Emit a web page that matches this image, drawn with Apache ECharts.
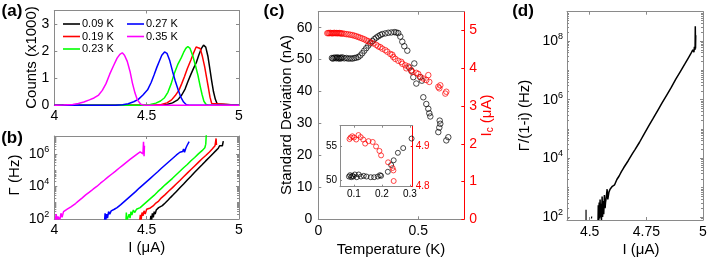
<!DOCTYPE html>
<html><head><meta charset="utf-8">
<script src="https://cdn.jsdelivr.net/npm/echarts@6/dist/echarts.min.js"></script>
<style>html,body{margin:0;padding:0;background:#fff}#c{width:714px;height:260px}</style>
</head><body><div id="c"></div>
<script>
// ---------------- DATA ----------------
const tempNames = ['0.09 K','0.19 K','0.23 K','0.27 K','0.35 K'];
const tempColors = ['#000000','#ff0000','#00ff00','#0000ff','#ff00ff'];

// (a) switching histograms: [I (uA), counts x1000]
const histK009 = [[4.0,0],[4.57,0],[4.61,0.03],[4.64,0.09],[4.668,0.2],[4.69,0.38],[4.708,0.6],[4.723,0.87],[4.74,1.15],[4.755,1.38],[4.769,1.58],[4.782,1.85],[4.795,2.08],[4.808,2.22],[4.82,2.15],[4.832,1.8],[4.842,1.35],[4.852,0.9],[4.862,0.5],[4.872,0.22],[4.882,0.05],[4.892,0],[5,0]];
const histK019 = [[4.0,0],[4.54,0],[4.58,0.03],[4.61,0.09],[4.635,0.2],[4.655,0.36],[4.675,0.56],[4.69,0.8],[4.705,1.06],[4.72,1.35],[4.74,1.68],[4.755,1.95],[4.768,2.15],[4.778,2.21],[4.79,2.1],[4.802,1.8],[4.814,1.43],[4.825,1.0],[4.835,0.62],[4.843,0.3],[4.852,0.07],[4.862,0],[5,0]];
const histK023 = [[4.0,0],[4.48,0],[4.52,0.03],[4.55,0.08],[4.575,0.16],[4.597,0.28],[4.615,0.48],[4.633,0.8],[4.65,1.18],[4.668,1.5],[4.687,1.75],[4.70,1.95],[4.712,2.1],[4.723,2.17],[4.735,2.1],[4.75,1.82],[4.765,1.45],[4.778,1.1],[4.79,0.7],[4.80,0.4],[4.81,0.15],[4.822,0.03],[4.835,0],[5,0]];
const histK027 = [[4.0,0],[4.33,0],[4.37,0.02],[4.40,0.06],[4.43,0.13],[4.455,0.22],[4.48,0.38],[4.505,0.57],[4.525,0.85],[4.54,1.12],[4.555,1.4],[4.568,1.62],[4.582,1.85],[4.597,1.97],[4.61,1.92],[4.625,1.65],[4.64,1.26],[4.655,0.9],[4.67,0.58],[4.685,0.3],[4.70,0.12],[4.715,0.02],[4.73,0],[5,0]];
const histK035 = [[4.0,0],[4.05,0.01],[4.1,0.03],[4.13,0.07],[4.16,0.12],[4.19,0.2],[4.215,0.27],[4.24,0.38],[4.26,0.55],[4.28,0.8],[4.30,1.15],[4.32,1.45],[4.34,1.74],[4.355,1.88],[4.368,1.94],[4.38,1.85],[4.395,1.62],[4.41,1.25],[4.423,0.82],[4.437,0.45],[4.45,0.2],[4.468,0.04],[4.49,0],[5,0]];

// (b) escape rate: [I (uA), log10(Gamma / Hz)]
const rateK009 = [[4.519,1.85],[4.523,2.2],[4.527,1.95],[4.531,2.35],[4.536,2.1],[4.541,2.45],[4.546,2.3],[4.552,2.55],[4.558,2.45],[4.565,2.7],[4.575,2.68],[4.585,2.82],[4.60,2.98],[4.615,3.15],[4.63,3.33],[4.645,3.5],[4.66,3.68],[4.68,3.92],[4.70,4.15],[4.72,4.4],[4.74,4.63],[4.76,4.87],[4.78,5.1],[4.80,5.33],[4.82,5.57],[4.84,5.8],[4.86,6.03],[4.875,6.2],[4.888,6.35],[4.895,6.5],[4.90,6.4],[4.905,6.58],[4.91,6.5],[4.915,6.78]];
const rateK019 = [[4.462,1.85],[4.466,2.25],[4.47,1.95],[4.475,2.4],[4.48,2.2],[4.486,2.5],[4.492,2.3],[4.50,2.6],[4.51,2.55],[4.52,2.68],[4.535,2.8],[4.55,2.98],[4.565,3.1],[4.58,3.3],[4.60,3.5],[4.62,3.72],[4.64,3.93],[4.66,4.15],[4.68,4.37],[4.70,4.6],[4.72,4.82],[4.74,5.04],[4.76,5.26],[4.78,5.48],[4.80,5.7],[4.82,5.9],[4.84,6.12],[4.855,6.3],[4.865,6.38],[4.87,6.5],[4.874,6.4],[4.876,6.95],[4.878,6.55]];
const rateK023 = [[4.388,1.9],[4.39,2.4],[4.393,1.9],[4.402,1.9],[4.405,2.3],[4.41,2.05],[4.415,2.45],[4.42,2.25],[4.428,2.55],[4.436,2.4],[4.445,2.6],[4.455,2.55],[4.465,2.7],[4.48,2.85],[4.50,3.05],[4.52,3.25],[4.54,3.45],[4.56,3.68],[4.58,3.88],[4.60,4.1],[4.62,4.3],[4.64,4.5],[4.66,4.72],[4.68,4.93],[4.70,5.15],[4.72,5.35],[4.74,5.58],[4.76,5.78],[4.78,6.0],[4.80,6.2],[4.81,6.3],[4.815,6.38],[4.82,6.6],[4.823,7.2]];
const rateK027 = [[4.272,1.85],[4.275,2.35],[4.279,1.95],[4.283,2.3],[4.288,2.05],[4.294,2.45],[4.30,2.3],[4.308,2.5],[4.315,2.45],[4.325,2.6],[4.34,2.7],[4.36,2.88],[4.38,3.08],[4.40,3.28],[4.42,3.48],[4.44,3.68],[4.46,3.9],[4.48,4.1],[4.50,4.3],[4.52,4.5],[4.54,4.7],[4.56,4.9],[4.58,5.12],[4.60,5.32],[4.62,5.52],[4.64,5.72],[4.66,5.92],[4.68,6.1],[4.695,6.15],[4.70,6.3],[4.705,6.1],[4.712,6.35],[4.718,6.5],[4.723,6.62],[4.73,6.75]];
const rateK035 = [[4.005,1.9],[4.01,2.3],[4.014,1.95],[4.02,2.15],[4.03,1.95],[4.036,2.35],[4.042,2.1],[4.05,2.45],[4.06,2.4],[4.07,2.6],[4.08,2.58],[4.09,2.75],[4.10,2.82],[4.115,2.95],[4.13,3.1],[4.15,3.28],[4.17,3.48],[4.19,3.65],[4.21,3.83],[4.23,4.0],[4.25,4.2],[4.27,4.38],[4.29,4.57],[4.31,4.75],[4.33,4.93],[4.35,5.12],[4.37,5.3],[4.39,5.48],[4.41,5.66],[4.43,5.83],[4.45,6.0],[4.465,6.12],[4.475,6.2],[4.48,6.0],[4.483,6.75],[4.486,5.85],[4.488,6.5]];

// (c) main: [T (K), std dev (nA)] and [T (K), Ic (uA)]
const sigmaMain = [[0.068,50.5],[0.073,50.3],[0.078,50.6],[0.085,50.6],[0.09,50.4],[0.095,50.7],[0.1,50.5],[0.105,50.3],[0.11,50.6],[0.115,50.4],[0.12,50.7],[0.13,50.4],[0.14,50.5],[0.15,50.3],[0.16,50.4],[0.17,50.3],[0.18,50.5],[0.19,50.6],[0.2,50.8],[0.21,51.3],[0.22,52.0],[0.23,52.8],[0.24,53.6],[0.25,54.4],[0.26,55.1],[0.27,55.8],[0.28,56.4],[0.29,56.9],[0.30,57.3],[0.31,57.7],[0.32,58.0],[0.335,58.2],[0.35,58.4],[0.365,58.5],[0.38,58.6],[0.39,58.5],[0.40,58.3],[0.41,57.2],[0.42,55.6],[0.43,54.2],[0.445,52.8],[0.455,47.5],[0.465,46.5],[0.48,48.8],[0.475,44.5],[0.49,42.5],[0.51,44.5],[0.518,43.4],[0.525,38.2],[0.54,36.1],[0.55,34.6],[0.555,33.2],[0.56,32.2],[0.6,27.3],[0.605,28.7],[0.61,29.9],[0.607,30.9],[0.64,24.7],[0.65,25.7]];
const icMain = [[0.045,4.93],[0.05,4.935],[0.055,4.93],[0.06,4.94],[0.065,4.93],[0.07,4.93],[0.075,4.93],[0.08,4.94],[0.085,4.93],[0.09,4.935],[0.095,4.93],[0.1,4.93],[0.105,4.935],[0.11,4.93],[0.115,4.92],[0.12,4.925],[0.13,4.915],[0.14,4.905],[0.15,4.9],[0.16,4.89],[0.17,4.88],[0.18,4.865],[0.19,4.85],[0.2,4.83],[0.21,4.81],[0.22,4.79],[0.23,4.77],[0.24,4.74],[0.25,4.72],[0.26,4.69],[0.275,4.66],[0.29,4.62],[0.30,4.58],[0.31,4.56],[0.32,4.52],[0.335,4.48],[0.345,4.44],[0.36,4.38],[0.37,4.36],[0.375,4.30],[0.385,4.25],[0.40,4.20],[0.415,4.17],[0.42,4.12],[0.435,4.08],[0.44,4.0],[0.45,4.05],[0.465,3.95],[0.47,3.9],[0.49,3.88],[0.5,3.85],[0.51,3.77],[0.525,3.73],[0.54,3.69],[0.55,3.82],[0.555,3.64],[0.6,3.51],[0.605,3.47],[0.61,3.55],[0.64,3.38],[0.635,3.33]];
// (c) inset
const sigmaInset = [[0.082,50.5],[0.086,50.7],[0.09,50.4],[0.094,50.6],[0.098,50.5],[0.103,50.8],[0.11,50.4],[0.117,50.8],[0.125,50.5],[0.135,50.6],[0.145,50.5],[0.16,50.4],[0.172,50.4],[0.185,50.5],[0.193,50.7],[0.197,50.6],[0.221,51.2],[0.233,52.2],[0.242,52.9],[0.257,54.0],[0.276,54.7],[0.306,56.1]];
const icInset = [[0.084,4.917],[0.088,4.921],[0.094,4.924],[0.1,4.921],[0.108,4.916],[0.116,4.927],[0.124,4.922],[0.133,4.916],[0.14,4.906],[0.152,4.912],[0.167,4.91],[0.179,4.899],[0.191,4.888],[0.197,4.877],[0.222,4.86],[0.238,4.846],[0.241,4.84],[0.242,4.814]];

// (d) [I (uA), log10(Gamma/(1-i) / Hz)]
const dRate = [[4.537,1.9],[4.538,2.4],[4.54,1.9],[4.542,2.5],[4.544,1.95],[4.546,2.6],[4.548,2.0],[4.55,2.45],[4.552,1.9],[4.555,2.7],[4.557,2.0],[4.56,2.55],[4.562,2.1],[4.565,2.75],[4.568,2.3],[4.57,2.5],[4.573,2.65],[4.577,2.95],[4.58,2.6],[4.585,2.85],[4.59,2.95],[4.595,2.9],[4.60,3.05],[4.61,3.1],[4.62,3.28],[4.63,3.4],[4.64,3.55],[4.65,3.68],[4.66,3.8],[4.67,3.92],[4.68,4.05],[4.69,4.18],[4.70,4.3],[4.72,4.55],[4.74,4.83],[4.76,5.1],[4.78,5.36],[4.80,5.63],[4.82,5.9],[4.84,6.16],[4.86,6.42],[4.88,6.7],[4.90,6.96],[4.92,7.22],[4.935,7.42],[4.945,7.55],[4.955,7.7],[4.96,7.62],[4.962,7.8],[4.965,7.7],[4.966,8.5],[4.967,7.75],[4.968,8.2]];
const dRateStray = [[4.484,1.9],[4.484,2.25],[4.486,'-'],[4.508,1.95],[4.509,2.02]];

// tick labels
const aXTicks = [4,4.5,5], aYTicks = [0,1,2,3];
const bXTicks = [4,4.5,5], bYTicks = [2,4,6];
const cXTicks = [0,0.5], cYTicks = [0,10,20,30,40,50,60], cY2Ticks = [0,1,2,3,4,5];
const inXTicks = [0.1,0.2,0.3], inYTicks = [50,55], inY2Ticks = [4.8,4.9];
const dXTicks = [4.5,4.75,5], dYTicks = [2,4,6,8];

// ---------------- CHART ----------------
const FONT = "'Liberation Sans', Arial, Helvetica, sans-serif";
const AXC = '#8a8a8a';
const RED = '#ff0000';

function logMinor(lo, hi){ const o=[]; for(let n=Math.floor(lo); n<=Math.ceil(hi); n++){ for(let k=1;k<=9;k++){ const v=n+Math.log10(k); if(v>lo+1e-6 && v<hi-1e-6) o.push(v);} } return o; }
const expFmt = v => '{b|10}{s|' + Math.round(v) + '}';
const expRich = {b:{fontSize:14, fontFamily:FONT, color:'#000'}, s:{fontSize:9, fontFamily:FONT, color:'#000', verticalAlign:'top', padding:[0,0,9,0]}};

function ax(gridIndex, position, min, max, ticks, o){
  o = o || {};
  const lc = o.lineColor || AXC;
  return {
    type:'value', gridIndex, position, min, max,
    axisLine:{show: o.noLine ? false : true, onZero:false, lineStyle:{color:lc, width:1}},
    axisTick:{show:true, inside:true, length:o.tickLen||3, customValues:ticks, lineStyle:{color:lc, width:1}},
    axisLabel:{show: !!o.labels, customValues:ticks, color:o.labelColor||'#000', fontSize:o.fs||14,
      fontFamily:FONT, margin:(o.margin!=null?o.margin:5), formatter:o.fmt, rich:o.rich, hideOverlap:false},
    splitLine:{show:false}, splitArea:{show:false}
  };
}

const grids = [
  {left:54.3, top:10.5, width:184.7, height:94.8},   // a
  {left:54.3, top:136, width:184.7, height:83},      // b
  {left:318.3, top:11.7, width:146, height:207.6},   // c
  {left:340, top:125.7, width:72.7, height:61},      // inset
  {left:567, top:11.7, width:136, height:208.3}      // d
];

const xAxes = [
  ax(0,'bottom',4,5,aXTicks,{labels:true, margin:4}),
  ax(0,'top',4,5,aXTicks),
  ax(1,'bottom',4,5,bXTicks,{labels:true, margin:4}),
  ax(1,'top',4,5,bXTicks),
  ax(2,'bottom',0,0.73,cXTicks,{labels:true, margin:5}),
  ax(2,'top',0,0.73,cXTicks),
  ax(3,'bottom',0.05,0.31,inXTicks,{labels:true, fs:10, margin:3, tickLen:2}),
  ax(3,'top',0.05,0.31,inXTicks,{tickLen:2}),
  ax(4,'bottom',4.4,5.0,dXTicks,{labels:true, margin:5}),
  ax(4,'top',4.4,5.0,dXTicks)
];
const yAxes = [
  ax(0,'left',0,3.5,aYTicks,{labels:true, margin:5}),
  ax(0,'right',0,3.5,aYTicks),
  ax(1,'left',2,7.1,bYTicks,{labels:true, margin:5, fmt:expFmt, rich:expRich}),
  ax(1,'right',2,7.1,bYTicks),
  ax(2,'left',0,65,cYTicks,{labels:true, margin:6}),
  ax(2,'right',0,5.5,cY2Ticks,{labels:true, margin:5, lineColor:RED, labelColor:RED}),
  ax(3,'left',49,58,inYTicks,{labels:true, fs:10, margin:3, tickLen:2}),
  ax(3,'right',4.8,4.95,inY2Ticks,{labels:true, fs:10, margin:3, tickLen:2, lineColor:RED, labelColor:RED}),
  ax(4,'left',1.9,9,dYTicks,{labels:true, margin:4, fmt:expFmt, rich:expRich}),
  ax(4,'right',1.9,9,dYTicks),
  ax(1,'left',2,7.1,logMinor(2,7.1),{noLine:true, tickLen:2}),
  ax(1,'right',2,7.1,logMinor(2,7.1),{noLine:true, tickLen:2}),
  ax(4,'left',1.9,9,logMinor(1.9,9),{noLine:true, tickLen:2}),
  ax(4,'right',1.9,9,logMinor(1.9,9),{noLine:true, tickLen:2})
];

const histSets = [histK009,histK019,histK023,histK027,histK035];
const rateSets = [rateK009,rateK019,rateK023,rateK027,rateK035];
const series = [];
histSets.forEach((d,i)=>series.push({type:'line', name:tempNames[i], xAxisIndex:0, yAxisIndex:0, data:d, symbol:'none', lineStyle:{color:tempColors[i], width:1.5}, itemStyle:{color:tempColors[i]}}));
rateSets.forEach((d,i)=>series.push({type:'line', name:'b '+tempNames[i], xAxisIndex:2, yAxisIndex:2, data:d, symbol:'none', lineStyle:{color:tempColors[i], width:1.5}}));
const circ = (c)=>({color:'rgba(0,0,0,0)', borderColor:c, borderWidth:0.9});
series.push({type:'scatter', name:'sigma', xAxisIndex:4, yAxisIndex:4, data:sigmaMain, symbol:'circle', symbolSize:5.5, itemStyle:circ('#000')});
series.push({type:'scatter', name:'Ic', xAxisIndex:4, yAxisIndex:5, data:icMain, symbol:'circle', symbolSize:5.5, itemStyle:circ(RED)});
series.push({type:'scatter', name:'sigma inset', xAxisIndex:6, yAxisIndex:6, data:sigmaInset, symbol:'circle', symbolSize:5, itemStyle:circ('#000')});
series.push({type:'scatter', name:'Ic inset', xAxisIndex:6, yAxisIndex:7, data:icInset, symbol:'circle', symbolSize:5, itemStyle:circ(RED)});
series.push({type:'line', name:'d', xAxisIndex:8, yAxisIndex:8, data:dRate, symbol:'none', lineStyle:{color:'#000', width:1.5}});
series.push({type:'line', name:'d stray', xAxisIndex:8, yAxisIndex:8, data:dRateStray, symbol:'none', connectNulls:false, lineStyle:{color:'#000', width:1.2}});

const legendBase = {orient:'vertical', icon:'rect', itemGap:1.5, itemWidth:17, itemHeight:1.6, padding:0, selectedMode:false,
  textStyle:{fontSize:11, lineHeight:11, fontFamily:FONT, color:'#000', padding:[0,0,0,-3]}};
const legends = [
  Object.assign({}, legendBase, {left:63, top:18.5, data:tempNames.slice(0,3)}),
  Object.assign({}, legendBase, {left:127, top:18.5, data:tempNames.slice(3)})
];

const txt = (text, x, y, o) => ({type:'text', x, y, rotation:(o&&o.rot)||0, silent:true,
  style:Object.assign({text, fill:'#000', font:((o&&o.bold)?'bold ':'') + ((o&&o.fs)||15) + 'px ' + FONT, align:'center', verticalAlign:'middle'}, (o&&o.style)||{})});

const graphics = [
  txt('(a)', 12, 11, {bold:true, fs:17}),
  txt('(b)', 12, 138, {bold:true, fs:17}),
  txt('(c)', 274, 11, {bold:true, fs:17}),
  txt('(d)', 523, 11, {bold:true, fs:17}),
  txt('Counts (x1000)', 31.5, 57.5, {rot:Math.PI/2}),
  txt('\u0393 (Hz)', 14.5, 175, {rot:Math.PI/2}),
  txt('I (\u03bcA)', 146.7, 248),
  txt('Standard Deviation (nA)', 287, 115, {rot:Math.PI/2}),
  txt('Temperature (K)', 391, 250),
  {type:'text', x:487, y:115.5, rotation:Math.PI/2, silent:true,
    style:{text:'{m|I}{c|c}{m| (\u03bcA)}', align:'center', verticalAlign:'middle', fill:RED,
      rich:{m:{fontSize:15, fontFamily:FONT, fill:RED}, c:{fontSize:10, fontFamily:FONT, fill:RED, verticalAlign:'bottom', padding:[6,0,0,0]}}}},
  txt('\u0393/(1-i) (Hz)', 525, 115.5, {rot:Math.PI/2}),
  txt('I (\u03bcA)', 641, 249.5)
];

const chart = echarts.init(document.getElementById('c'), null, {renderer:'canvas'});
chart.setOption({
  animation:false, backgroundColor:'#fff',
  textStyle:{fontFamily:FONT},
  grid:grids, xAxis:xAxes, yAxis:yAxes, series, legend:legends, graphic:graphics
});
</script></body></html>
